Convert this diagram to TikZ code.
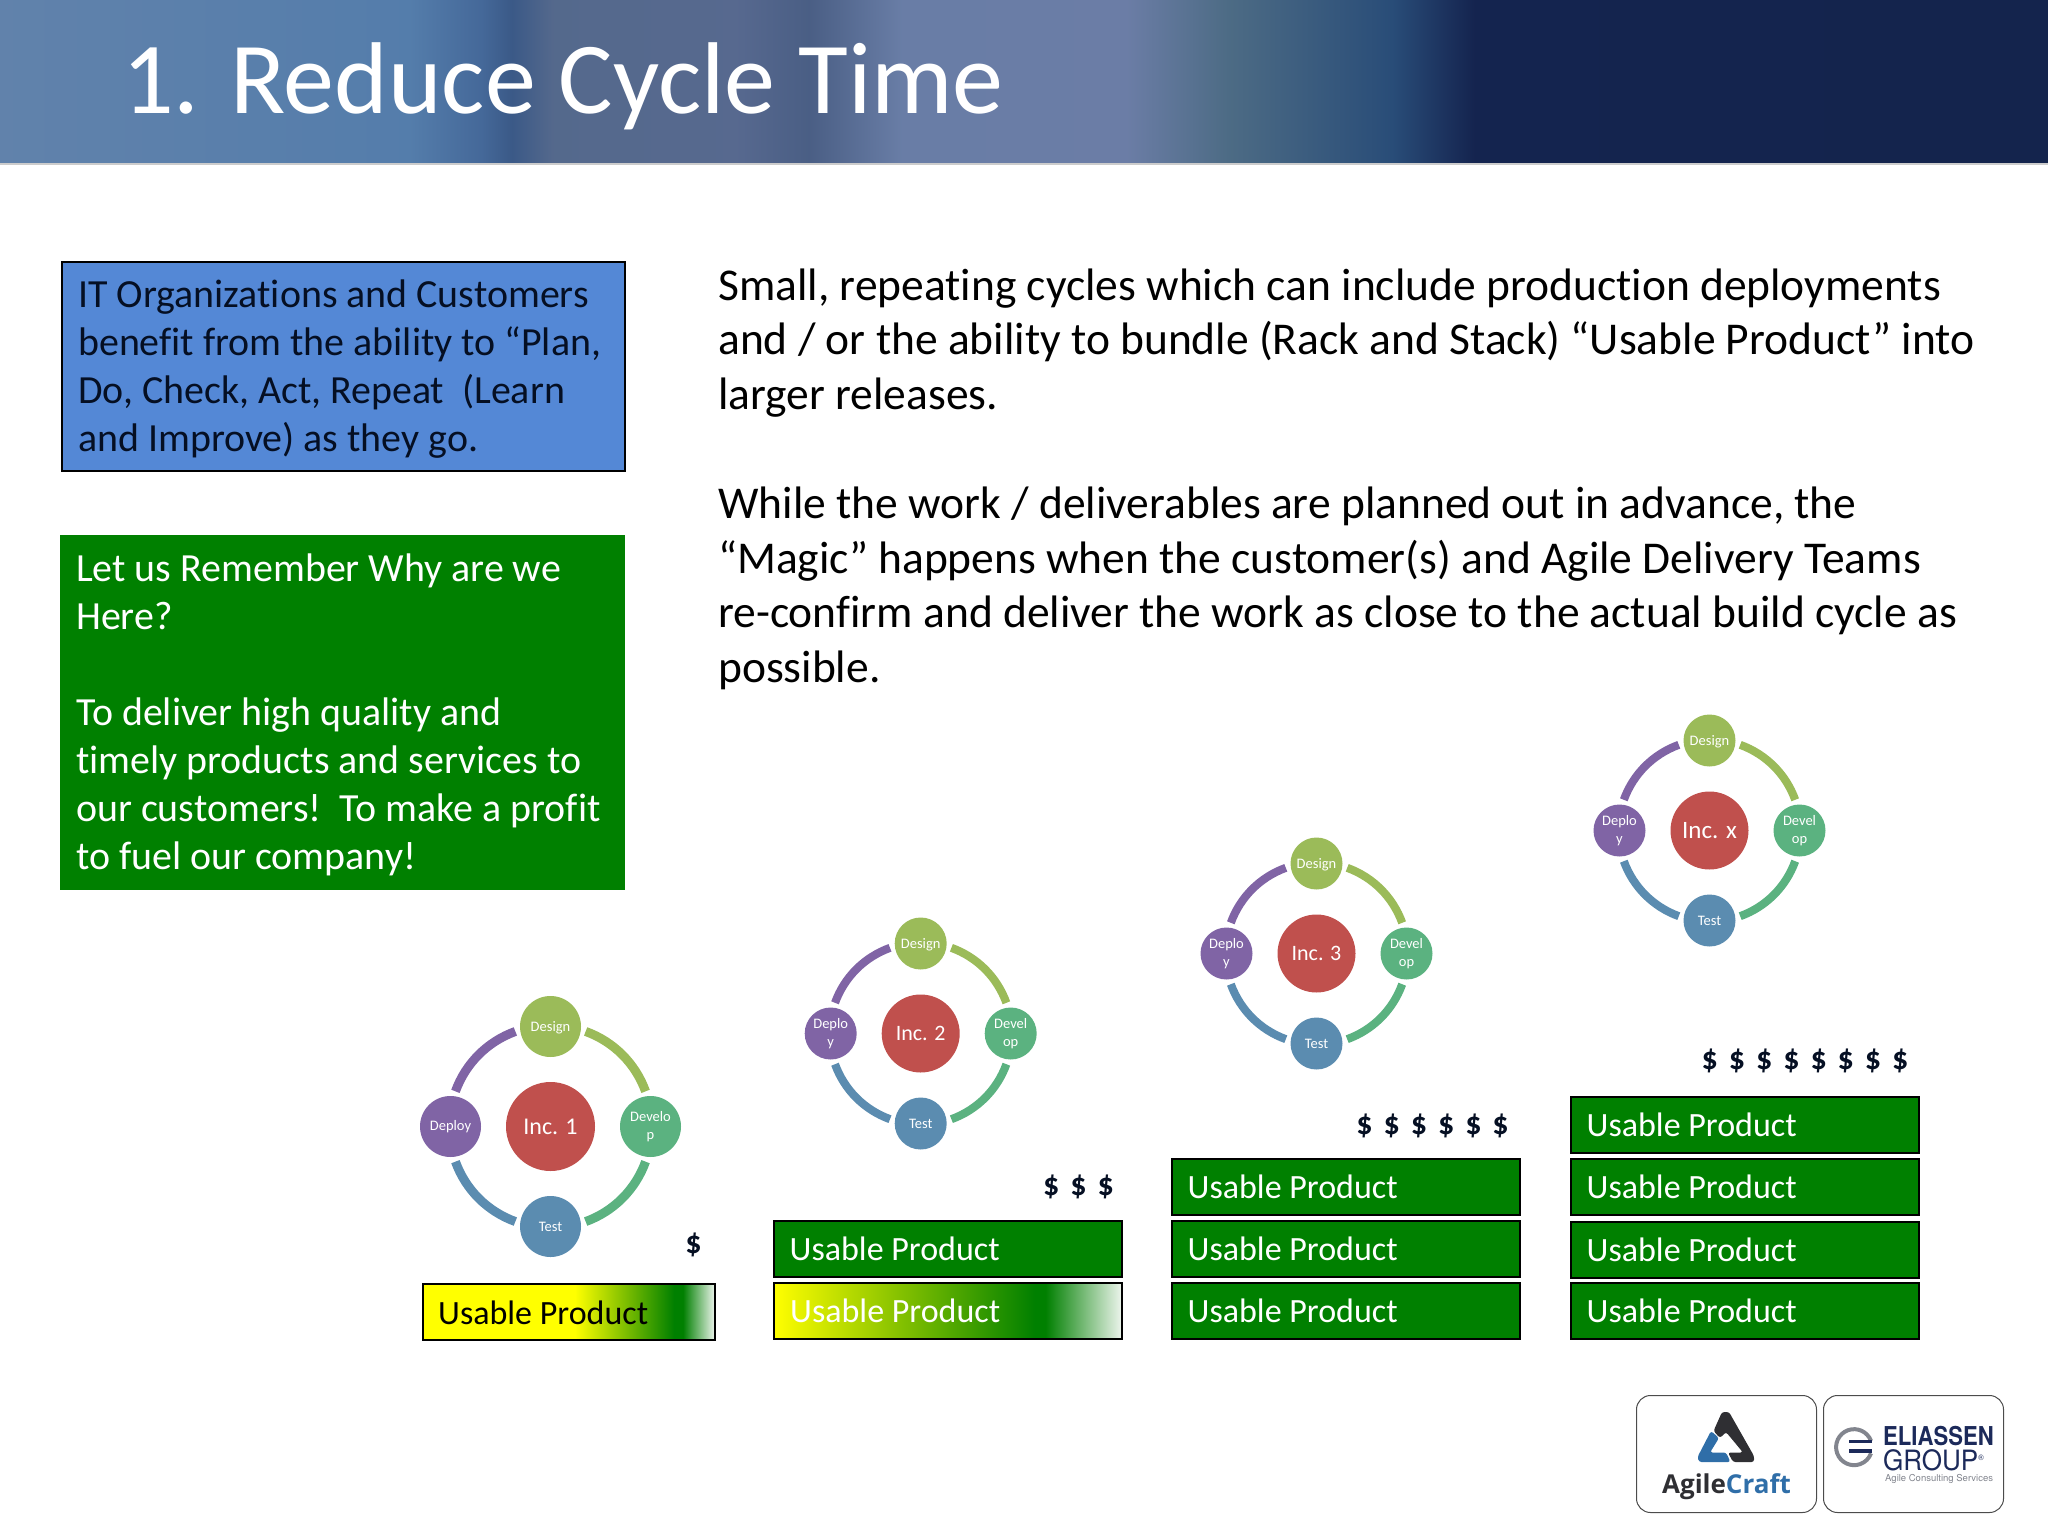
\documentclass[tikz,border=0pt]{standalone}
\usepackage{fontspec}
\setmainfont[Ligatures=NoCommon]{Carlito}
\newfontfamily\logofont{TeX Gyre Heros}
\newfontfamily\craftfont{Open Sans}
\usetikzlibrary{calc, positioning}

\definecolor{bluebox}{RGB}{84,136,214}
\definecolor{greenbox}{RGB}{0,128,0}
\definecolor{bluetext}{RGB}{5,15,35}
\definecolor{designc}{RGB}{155,187,89}
\definecolor{developc}{RGB}{91,178,128}
\definecolor{testc}{RGB}{91,140,176}
\definecolor{deployc}{RGB}{128,100,165}
\definecolor{incc}{RGB}{192,80,77}
\definecolor{logodark}{RGB}{47,47,51}
\definecolor{logoblue}{RGB}{47,110,168}
\definecolor{logonavy}{RGB}{28,42,90}
\definecolor{logogray}{RGB}{130,133,142}

\pgfdeclarehorizontalshading{headerband}{100bp}{
    rgb(0bp)=(.38,.51,.67); rgb(25bp)=(.38,.51,.67); rgb(35bp)=(.33,.49,.67);
    rgb(36.75bp)=(.27,.41,.60); rgb(37.5bp)=(.23,.35,.53); rgb(38.5bp)=(.33,.41,.55);
    rgb(43bp)=(.34,.41,.56); rgb(44.75bp)=(.29,.37,.52); rgb(47bp)=(.41,.49,.65);
    rgb(52.5bp)=(.42,.49,.65); rgb(55bp)=(.30,.42,.52); rgb(59bp)=(.16,.30,.47);
    rgb(61bp)=(.08,.14,.31); rgb(75bp)=(.08,.14,.30); rgb(100bp)=(.08,.14,.30)}
\pgfdeclarehorizontalshading{firstbar}{100bp}{
    rgb(0bp)=(1,1,0); rgb(25bp)=(1,1,0); rgb(51bp)=(1,1,0); rgb(68bp)=(0,.5,0);
    rgb(69.5bp)=(0,.5,0); rgb(75bp)=(.93,.96,.93); rgb(100bp)=(.93,.96,.93)}
\pgfdeclarehorizontalshading{secondbar}{100bp}{
    rgb(0bp)=(1,1,0); rgb(25bp)=(1,1,0); rgb(27bp)=(.95,.97,0); rgb(62.5bp)=(0,.5,0);
    rgb(64bp)=(0,.5,0); rgb(75bp)=(.93,.96,.93); rgb(100bp)=(.93,.96,.93)}

\newcommand{\msep}{\hspace{11pt}}

\tikzset{
    x=1pt, y=-1pt,
    infobox/.style={draw=black, line width=1.5pt, anchor=north west, minimum width=563pt, inner sep=0pt},
    infotext/.style={anchor=west, inner sep=0pt, align=flush left, font=\fontsize{39.9}{48}\selectfont},
    usable/.style={draw=black, line width=2pt, anchor=north west, fill=greenbox, text=white,
        minimum height=56pt, inner sep=0pt, font=\fontsize{34}{40}\selectfont},
    usabletext/.style={anchor=west, inner sep=0pt, font=\fontsize{34}{40}\selectfont},
    ringnode/.style={circle, inner sep=0pt, outer sep=5pt, text=white, align=center,
        font=\fontsize{14.5}{18}\selectfont},
    incnode/.style={circle, inner sep=0pt, text=white, fill=incc},
    money/.style={inner sep=0pt, text=bluetext, font=\bfseries\fontsize{32}{36}\selectfont},
    logobox/.style={draw=black!70, line width=1pt, rounded corners=14pt, anchor=north west,
        minimum width=180pt, minimum height=117pt, inner sep=0pt},
}

\begin{document}
\begin{tikzpicture}
    \useasboundingbox (0,0) rectangle (2048,1536);

    % title band
    \shade[shading=headerband] (0,0) rectangle (2048,164);
    \fill[black!20] (0,163.5) rectangle (2048,165);
    \node (title) [anchor=base west, inner sep=0pt, text=white, font=\fontsize{102}{110}\selectfont]
        at (122,113.5) {1. Reduce Cycle Time};

    % boxes on the left
    \node (itbox) [infobox, fill=bluebox, minimum height=209pt] at (61,261) {};
    \node (ittext) [infotext, text=bluetext] at (78,369.5)
        {IT Organizations and Customers\\
        benefit from the ability to “Plan,\\
        Do, Check, Act, Repeat\ \ (Learn\\
        and Improve) as they go.};
    \node (whybox) [infobox, fill=greenbox, draw=greenbox, minimum height=353pt] at (60,535) {};
    \node (whytext) [infotext, text=white] at (76,715)
        {Let us Remember Why are we\\
        Here?\\[48pt]
        To deliver high quality and\\
        timely products and services to\\
        our customers!\ \ To make a profit\\
        to fuel our company!};

    % main text
    \node (mainA) [anchor=north west, inner sep=0pt, align=flush left, font=\fontsize{45.5}{54.6}\selectfont] at (718,268.5)
        {Small, repeating cycles which can include production deployments\\
        and / or the ability to bundle (Rack and Stack) “Usable Product” into\\
        larger releases.\\[54.6pt]
        While the work / deliverables are planned out in advance, the\\
        “Magic” happens when the customer(s) and Agile Delivery Teams\\
        re-confirm and deliver the work as close to the actual build cycle as\\
        possible.};

    % the four cycles
    \foreach \k/\cx/\cy/\ringr/\smalld/\incd/\incf/\deptext/\devtext/\inctext in {
            1/550.5/1126/100/61/89/24/Deploy/{Develo\\p}/Inc. 1,
            2/920.7/1033/90/52/78/22/{Deplo\\y}/{Devel\\op}/Inc. 2,
            3/1316.5/953/90/52/78/22/{Deplo\\y}/{Devel\\op}/Inc. 3,
            4/1709.5/830/90/52/78/25/{Deplo\\y}/{Devel\\op}/Inc. x}{
        \node (inc\k) [incnode, minimum size=\incd, font=\fontsize{\incf}{30}\selectfont] at (\cx,\cy+.5) {\inctext};
        \node (des\k) [ringnode, fill=designc, minimum size=\smalld, text depth=0pt] at (\cx,\cy-\ringr+.5) {Design};
        \node (dev\k) [ringnode, fill=developc, minimum size=\smalld] at (\cx+\ringr,\cy+.5) {\devtext};
        \node (tes\k) [ringnode, fill=testc, minimum size=\smalld] at (\cx,\cy+\ringr+.5) {Test};
        \node (dep\k) [ringnode, fill=deployc, minimum size=\smalld] at (\cx-\ringr,\cy+.5) {\deptext};
        \draw[designc, line width=.09*\ringr] (des\k.-8) to[out=-20,in=110,looseness=.9] (dev\k.98);
        \draw[developc, line width=.09*\ringr] (dev\k.-98) to[out=-110,in=20,looseness=.9] (tes\k.8);
        \draw[testc, line width=.09*\ringr] (tes\k.172) to[out=160,in=-70,looseness=.9] (dep\k.-82);
        \draw[deployc, line width=.09*\ringr] (dep\k.82) to[out=70,in=-160,looseness=.9] (des\k.188);
    }

    % money
    \node (moneyA) [money] at (693.5,1245) {\$};
    \node (moneyB) [money] at (1078.5,1187) {\$\msep\$\msep\$};
    \node (moneyC) [money] at (1432.5,1126) {\$\msep\$\msep\$\msep\$\msep\$\msep\$};
    \node (moneyD) [money] at (1805,1061) {\$\msep\$\msep\$\msep\$\msep\$\msep\$\msep\$\msep\$};

    % usable product bars
    \node (barA) [usable, shade, shading=firstbar, minimum width=292pt] at (422,1283) {};
    \node (barAtext) [usabletext, text=black] at (438,1313) {Usable Product};
    \node (barB) [usable, shade, shading=secondbar, minimum width=348pt] at (773,1282) {};
    \node (barBtext) [usabletext, text=white] at (790,1311) {Usable Product};
    \foreach \k/\bx/\by in {C/773/1220, D/1171/1158, E/1171/1220, F/1171/1282,
            G/1570/1096, H/1570/1158, I/1570/1221, J/1570/1282}{
        \node (bar\k) [usable, minimum width=348pt] at (\bx,\by) {};
        \node (bar\k text) [usabletext, text=white] at (\bx+16.5,\by+28.5) {Usable Product};
    }

    % logo boxes
    \node (agilebox) [logobox] at (1636,1395) {};
    \node (eliassenbox) [logobox] at (1823,1395) {};
    \fill[logodark, rounded corners=2.5pt] (1713.5,1431) -- (1722,1412) -- (1729,1412) -- (1754,1456)
        -- (1754,1462) -- (1733,1462) -- (1728,1452.5) -- (1743,1452.5) -- (1726,1432) -- (1720,1438) -- cycle;
    \fill[logoblue, rounded corners=2.5pt] (1711,1431) -- (1697.5,1457) -- (1699,1462) -- (1730.5,1462)
        -- (1726,1452.5) -- (1710,1452.5) -- (1719,1438) -- cycle;
    \node (agiletext) [anchor=base, inner sep=0pt, font=\craftfont\bfseries\fontsize{26}{30}\selectfont, text=logodark]
        at (1726.5,1493) {Agile\textcolor{logoblue}{Craft}};
    \draw[logogray, line width=4pt] (1871,1441) arc[start angle=-20, end angle=-340, radius=18];
    \fill[logonavy] (1849,1440) rectangle (1872,1442.5);
    \fill[logonavy] (1849,1449) rectangle (1872,1453);
    \node (eliassentext) [anchor=base west, inner sep=0pt, xscale=.85, font=\logofont\bfseries\fontsize{26}{30}\selectfont, text=logonavy]
        at (1883,1445) {ELIASSEN};
    \node (grouptext) [anchor=base west, inner sep=0pt, xscale=.93, font=\logofont\fontsize{28}{32}\selectfont, text=logonavy]
        at (1883,1470) {GROUP\raisebox{10pt}{\fontsize{8}{8}\selectfont®}};
    \node (servicestext) [anchor=base west, inner sep=0pt, font=\logofont\fontsize{9.5}{11}\selectfont, text=logogray]
        at (1885,1481) {Agile Consulting Services};
\end{tikzpicture}
\end{document}
